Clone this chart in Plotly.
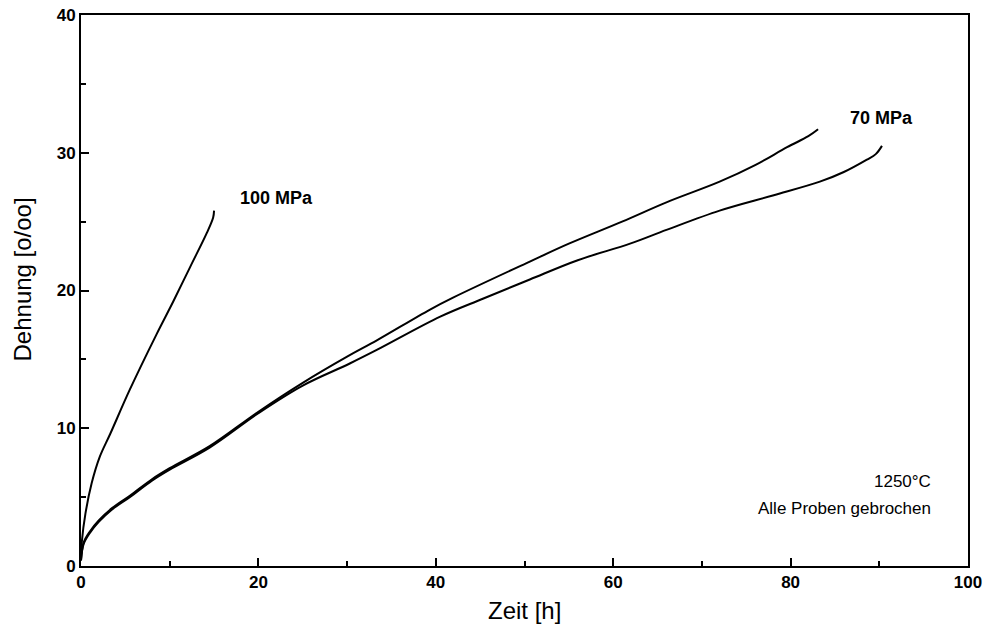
import plotly.graph_objects as go

# 100 MPa curve
t_100 = [0, 0.1, 0.5, 1.2, 2.1, 3.3, 5.5, 8.5, 10.4, 12.3, 14.2, 14.9, 15.0]
e_100 = [0.5, 1.8, 3.8, 6.0, 7.9, 9.6, 12.8, 16.8, 19.2, 21.7, 24.2, 25.3, 25.8]

# 70 MPa, specimen A (breaks at ~83 h)
t_70a = [0, 0.3, 1, 2, 3.5, 5.5, 8, 10, 14.5, 20, 25, 30, 33.4, 39.3, 42, 50.6, 55, 61, 66, 72, 76, 79.6, 82, 83.1]
e_70a = [0.4, 1.7, 2.5, 3.3, 4.2, 5.1, 6.3, 7.1, 8.7, 11.2, 13.3, 15.2, 16.4, 18.6, 19.5, 22.1, 23.4, 25.0, 26.4, 27.9, 29.1, 30.4, 31.2, 31.7]

# 70 MPa, specimen B (breaks at ~90 h)
t_70b = [0, 0.3, 1, 2, 3.5, 5.5, 8, 10, 14.5, 20, 25, 30.3, 33.4, 40.5, 45.3, 50.6, 56, 61.9, 66, 72, 78, 83.3, 86, 88.6, 89.6, 90.3]
e_70b = [0.4, 1.6, 2.4, 3.2, 4.1, 5.0, 6.2, 7.0, 8.6, 11.1, 13.1, 14.7, 15.7, 18.1, 19.4, 20.8, 22.2, 23.4, 24.4, 25.8, 26.9, 27.9, 28.6, 29.5, 29.9, 30.5]

x_ticks = [0, 20, 40, 60, 80, 100]
y_ticks = [0, 10, 20, 30, 40]

FONT = "Liberation Sans, Arial, Helvetica, sans-serif"

fig = go.Figure()
for xs, ys in [(t_100, e_100), (t_70a, e_70a), (t_70b, e_70b)]:
    fig.add_trace(go.Scatter(x=xs, y=ys, mode="lines",
                             line=dict(color="black", width=2, shape="spline", smoothing=1.0),
                             showlegend=False, hoverinfo="skip"))

axis_common = dict(showgrid=False, zeroline=False, showline=True, linecolor="black",
                   linewidth=2, mirror=True, ticks="inside", tickcolor="black",
                   tickwidth=1.5, ticklen=8, automargin=False, ticklabeloverflow="allow",
                   tickfont=dict(family=FONT, size=17, color="black", weight="bold"))

fig.update_xaxes(range=[0, 100], tickvals=x_ticks, ticktext=[str(v) for v in x_ticks],
                 minor=dict(dtick=10, ticks="inside", ticklen=5, tickcolor="black", tickwidth=1.5),
                 **axis_common)
fig.update_yaxes(range=[0, 40], tickvals=y_ticks, ticktext=[str(v) for v in y_ticks],
                 minor=dict(dtick=5, ticks="inside", ticklen=5, tickcolor="black", tickwidth=1.5),
                 **axis_common)

annotations = [
    dict(x=22.0, y=26.7, xref="x", yref="y", text="100 MPa", showarrow=False,
         font=dict(family=FONT, size=18, color="black", weight="bold")),
    dict(x=90.3, y=32.5, xref="x", yref="y", text="70 MPa", showarrow=False,
         font=dict(family=FONT, size=18, color="black", weight="bold")),
    dict(x=96.0, y=6.1, xref="x", yref="y", text="1250°C", showarrow=False, xanchor="right",
         font=dict(family=FONT, size=17, color="black")),
    dict(x=96.0, y=4.2, xref="x", yref="y", text="Alle Proben gebrochen", showarrow=False, xanchor="right",
         font=dict(family=FONT, size=17, color="black")),
    dict(x=0.5, y=-0.08, xref="paper", yref="paper", text="Zeit [h]", showarrow=False,
         yanchor="middle", font=dict(family=FONT, size=24, color="black")),
    dict(x=-0.0665, y=0.52, xref="paper", yref="paper", text="Dehnung [o/oo]", showarrow=False,
         textangle=-90, xanchor="center", yanchor="middle",
         font=dict(family=FONT, size=24, color="black")),
]

fig.update_layout(width=989, height=636, margin=dict(l=81, r=21, t=15, b=70),
                  plot_bgcolor="white", paper_bgcolor="white", annotations=annotations)

fig.write_html("out.html", config={"displayModeBar": False},
               post_script="document.body.style.margin='0';")
